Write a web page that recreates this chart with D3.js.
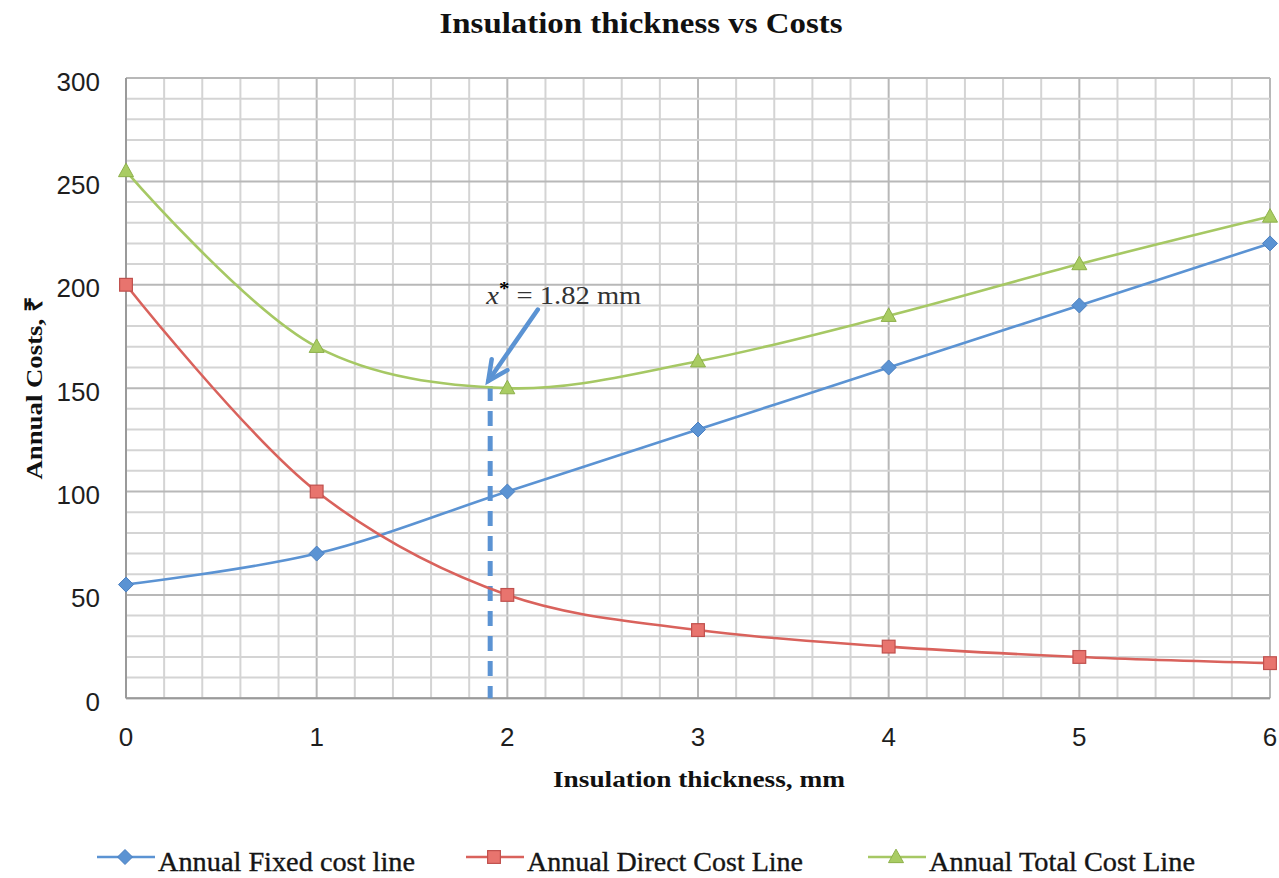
<!DOCTYPE html>
<html><head><meta charset="utf-8">
<script src="https://cdn.jsdelivr.net/npm/d3@7"></script>
<style>body{margin:0;background:#fff}svg{display:block}</style>
</head><body><div id="chart"></div>
<script>
const thickness = [0, 1, 2, 3, 4, 5, 6];
const fixedCost = [55, 70, 100, 130, 160, 190, 220];
const directCost = [200, 100, 50, 33, 25, 20, 17];
const totalCost = [255, 170, 150, 163, 185, 210, 233];
const yTicks = [0, 50, 100, 150, 200, 250, 300];
const xTicks = [0, 1, 2, 3, 4, 5, 6];
const seriesNames = ["Annual Fixed cost line", "Annual Direct Cost Line", "Annual Total Cost Line"];
const optimumLabel = "1.82 mm";
const dashLine = [[1.91, 151], [1.91, 0]];
const arrowLine = [[2.16, 188], [1.9, 153.5]];
const labelPos = [1.89, 190.5];

(function () {
const W = 1279, H = 878;
const svg = d3.select("#chart").append("svg").attr("width", W).attr("height", H);
const pLeft = 126, pRight = 1270, pTop = 78, pBottom = 698.3;
const x = d3.scaleLinear().domain([0, 6]).range([pLeft, pRight]);
const y = d3.scaleLinear().domain([0, 300]).range([pBottom, pTop]);

const serif = "'Liberation Serif','Times New Roman',serif";
const sans = "'Liberation Sans',Arial,sans-serif";

const g = svg.append("g");
const minorX = d3.range(0, 6.0001, 0.2);
const minorY = d3.range(0, 300.001, 10);
g.selectAll("line.mx").data(minorX).join("line")
  .attr("x1", d => x(d)).attr("x2", d => x(d)).attr("y1", y(0)).attr("y2", y(300))
  .attr("stroke", d => Math.abs(d - Math.round(d)) < 1e-6 ? "#b8b8b8" : "#d4d4d4").attr("stroke-width", 2);
g.selectAll("line.my").data(minorY).join("line")
  .attr("y1", d => y(d)).attr("y2", d => y(d)).attr("x1", x(0)).attr("x2", x(6))
  .attr("stroke", d => Math.round(d) % 50 === 0 ? "#b8b8b8" : "#d4d4d4").attr("stroke-width", 2);
g.append("line").attr("x1", x(0)).attr("x2", x(0)).attr("y1", y(0)).attr("y2", y(300)).attr("stroke", "#9a9a9a").attr("stroke-width", 2);
g.append("line").attr("x1", x(0)).attr("x2", x(6)).attr("y1", y(0)).attr("y2", y(0)).attr("stroke", "#9a9a9a").attr("stroke-width", 2);

svg.selectAll("text.yt").data(yTicks).join("text")
  .attr("x", 100).attr("y", d => y(d) + 12.5).attr("text-anchor", "end")
  .attr("font-family", sans).attr("font-size", 26).attr("fill", "#1e1e1e").text(d => d);
svg.selectAll("text.xt").data(xTicks).join("text")
  .attr("x", d => x(d)).attr("y", 746).attr("text-anchor", "middle")
  .attr("font-family", sans).attr("font-size", 26).attr("fill", "#1e1e1e").text(d => d);

svg.append("text").attr("x", 641).attr("y", 33).attr("text-anchor", "middle")
  .attr("font-family", serif).attr("font-weight", "bold").attr("font-size", 29)
  .attr("textLength", 403).attr("lengthAdjust", "spacingAndGlyphs").attr("fill", "#111")
  .text("Insulation thickness vs Costs");
svg.append("text").attr("x", 699).attr("y", 787).attr("text-anchor", "middle")
  .attr("font-family", serif).attr("font-weight", "bold").attr("font-size", 24)
  .attr("textLength", 292).attr("lengthAdjust", "spacingAndGlyphs").attr("fill", "#111")
  .text("Insulation thickness, mm");
svg.append("text").attr("transform", "translate(42,388) rotate(-90)").attr("text-anchor", "middle")
  .attr("font-family", serif).attr("font-weight", "bold").attr("font-size", 24)
  .attr("textLength", 183).attr("lengthAdjust", "spacingAndGlyphs").attr("fill", "#111")
  .text("Annual Costs, ₹");

const colors = ["#5b93d3", "#d9625c", "#a6c864"];
const fills = ["#5b93d3", "#e8746e", "#a9cc63"];
const strokes = ["#4a7fc0", "#c0504d", "#8db04a"];
const allSeries = [fixedCost, directCost, totalCost];
const line = d3.line().x(d => x(d[0])).y(d => y(d[1])).curve(d3.curveCatmullRom.alpha(0.5));

svg.append("path").attr("d", d3.line().x(d => x(d[0])).y(d => y(d[1]))(dashLine))
  .attr("stroke", "#5b93d3").attr("stroke-width", 5).attr("stroke-dasharray", "15,10").attr("fill", "none");

allSeries.forEach((s, i) => {
  svg.append("path").datum(thickness.map((t, k) => [t, s[k]])).attr("d", line)
    .attr("fill", "none").attr("stroke", colors[i]).attr("stroke-width", 2.6);
});

function marker(sel, i, cx, cy, r) {
  if (i === 0) {
    sel.append("path").attr("d", `M${cx},${cy - r}L${cx + r},${cy}L${cx},${cy + r}L${cx - r},${cy}Z`)
      .attr("fill", fills[0]).attr("stroke", strokes[0]).attr("stroke-width", 1);
  } else if (i === 1) {
    sel.append("rect").attr("x", cx - r * 0.85).attr("y", cy - r * 0.85).attr("width", r * 1.7).attr("height", r * 1.7)
      .attr("fill", fills[1]).attr("stroke", strokes[1]).attr("stroke-width", 1.2);
  } else {
    sel.append("path").attr("d", `M${cx},${cy - r * 1.05}L${cx + r},${cy + r * 0.75}L${cx - r},${cy + r * 0.75}Z`)
      .attr("fill", fills[2]).attr("stroke", strokes[2]).attr("stroke-width", 1);
  }
}
allSeries.forEach((s, i) => {
  const mg = svg.append("g");
  thickness.forEach((t, k) => marker(mg, i, x(t), y(s[k]), 7.5));
});

const a0 = [x(arrowLine[0][0]), y(arrowLine[0][1])], a1 = [x(arrowLine[1][0]), y(arrowLine[1][1])];
svg.append("line").attr("x1", a0[0]).attr("y1", a0[1]).attr("x2", a1[0]).attr("y2", a1[1])
  .attr("stroke", "#5b93d3").attr("stroke-width", 4.5).attr("stroke-linecap", "round");
const ang = Math.atan2(a1[1] - a0[1], a1[0] - a0[0]);
const hl = 22, ha = 0.45;
const p1 = [a1[0] - hl * Math.cos(ang - ha), a1[1] - hl * Math.sin(ang - ha)];
const p2 = [a1[0] - hl * Math.cos(ang + ha), a1[1] - hl * Math.sin(ang + ha)];
svg.append("path").attr("d", `M${p1[0]},${p1[1]}L${a1[0]},${a1[1]}L${p2[0]},${p2[1]}`)
  .attr("stroke", "#5b93d3").attr("stroke-width", 4.5).attr("fill", "none").attr("stroke-linecap", "round");

const lt = svg.append("text").attr("x", x(labelPos[0])).attr("y", y(labelPos[1]))
  .attr("font-family", serif).attr("font-size", 26).attr("fill", "#333")
  .attr("textLength", 155).attr("lengthAdjust", "spacingAndGlyphs");
lt.append("tspan").attr("font-style", "italic").text("x");
lt.append("tspan").attr("dy", -9).attr("font-size", 19).attr("font-weight", "bold").attr("fill", "#000").text("*");
lt.append("tspan").attr("dy", 9).text(" = " + optimumLabel);

const legX = [97, 466, 868];
const legTextLen = [257, 276, 266];
const ly = 857;
seriesNames.forEach((n, i) => {
  const lg = svg.append("g");
  lg.append("line").attr("x1", legX[i]).attr("x2", legX[i] + 58).attr("y1", ly).attr("y2", ly)
    .attr("stroke", colors[i]).attr("stroke-width", 2.6);
  marker(lg, i, legX[i] + 28, ly, 7.5);
  lg.append("text").attr("x", legX[i] + 61).attr("y", ly + 14)
    .attr("font-family", serif).attr("font-size", 27).attr("fill", "#151515")
    .attr("stroke", "#151515").attr("stroke-width", 0.35)
    .attr("textLength", legTextLen[i]).attr("lengthAdjust", "spacingAndGlyphs").text(n);
});
})();
</script></body></html>
